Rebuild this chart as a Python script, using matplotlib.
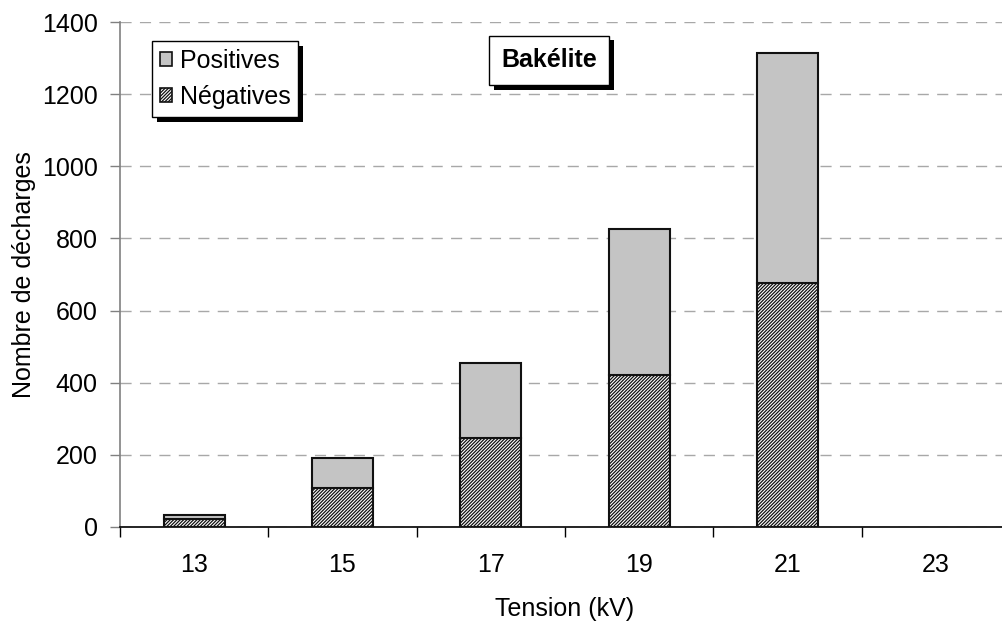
import matplotlib
matplotlib.use("Agg")
import matplotlib.pyplot as plt
from matplotlib.patches import Patch, Rectangle
import numpy as np

categories = ["13", "15", "17", "19", "21", "23"]
negatives = [23, 109, 248, 422, 676, 0]
positives = [9, 82, 206, 405, 639, 0]
yticks = [0, 200, 400, 600, 800, 1000, 1200, 1400]

plt.rcParams['font.family'] = ['Liberation Sans', 'DejaVu Sans']
plt.rcParams['hatch.linewidth'] = 0.9
plt.rcParams['hatch.color'] = '#303030'

W, H = 1002, 622
FS = 18
fig = plt.figure(figsize=(W/100, H/100), dpi=100)
ax = fig.add_axes([120/W, (H-527)/H, 890/W, 505/H])

x = np.arange(len(categories))
bw = 0.41
neg_face = '#ffffff'
pos_face = '#c4c4c4'
edges = ['#111111' if (n + p) > 0 else 'none' for n, p in zip(negatives, positives)]
ax.bar(x, negatives, bw, facecolor=neg_face, edgecolor=edges, linewidth=1.5,
       hatch='//////////', zorder=3)
ax.bar(x, positives, bw, bottom=negatives, facecolor=pos_face, edgecolor=edges,
       linewidth=1.5, zorder=3)

ax.set_xlim(-0.5, len(categories) - 0.5)
ax.set_ylim(0, 1400)
ax.set_yticks(yticks)
ax.set_yticklabels([str(v) for v in yticks])
ax.set_xticks(x)
ax.set_xticklabels(categories)
ax.set_xticks(np.arange(-0.5, len(categories) - 0.4, 1.0), minor=True)
ax.tick_params(axis='x', which='major', length=0, labelsize=FS, pad=19)
ax.tick_params(axis='x', which='minor', length=7, direction='out', width=1)
ax.tick_params(axis='y', length=7, direction='out', width=1, labelsize=FS, pad=9,
               color='#808080')

for s in ['top', 'right']:
    ax.spines[s].set_visible(False)
ax.spines['left'].set_color('#808080')
ax.spines['left'].set_linewidth(1.2)
ax.spines['bottom'].set_color('black')
ax.spines['bottom'].set_linewidth(1.2)

ax.yaxis.grid(True, linestyle=(0, (8, 6)), color='#a8a8a8', linewidth=1, zorder=0)
ax.set_axisbelow(True)

ax.set_xlabel("Tension (kV)", fontsize=FS, labelpad=14)
ax.set_ylabel("Nombre de décharges", fontsize=FS, labelpad=4)

handles = [Patch(facecolor=pos_face, edgecolor='#111111', linewidth=1.2),
           Patch(facecolor=neg_face, edgecolor='#111111', linewidth=1.2, hatch='//////////')]
leg = ax.legend(handles, ["Positives", "Négatives"], loc='upper left',
                bbox_to_anchor=(152/W, 1 - 41/H), bbox_transform=fig.transFigure,
                fancybox=False, edgecolor='black', framealpha=1, fontsize=FS,
                handlelength=0.5, handleheight=0.5, handletextpad=0.3,
                borderpad=0.3, labelspacing=0.5, borderaxespad=0)
leg.get_frame().set_linewidth(1.0)
leg.set_zorder(10)

txt = ax.text(549/W, 1 - 60/H, "Bakélite", transform=fig.transFigure, fontsize=FS,
              fontweight='bold', ha='center', va='center', zorder=10,
              bbox=dict(boxstyle='square,pad=0.5', facecolor='white',
                        edgecolor='black', linewidth=1.0))

fig.canvas.draw()
r = fig.canvas.get_renderer()
inv = fig.transFigure.inverted()
for bb in [leg.get_frame().get_window_extent(r), txt.get_bbox_patch().get_window_extent(r)]:
    (x0, y0), (x1, y1) = inv.transform([[bb.x0 + 5, bb.y0 - 5], [bb.x1 + 5, bb.y1 - 5]])
    ax.add_patch(Rectangle((x0, y0), x1 - x0, y1 - y0, transform=fig.transFigure,
                           facecolor='black', edgecolor='none', zorder=9, clip_on=False))

fig.savefig("out.png", dpi=100)
